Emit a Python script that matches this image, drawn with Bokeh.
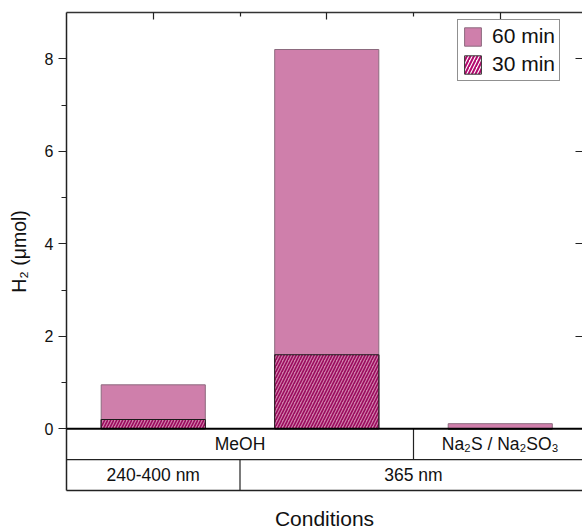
from bokeh.plotting import figure
from bokeh.models import (Range1d, LinearAxis, FixedTicker, Legend, LegendItem, Span,
                          CustomJSTickFormatter)
from bokeh.core.properties import value
from bokeh.embed import file_html
from bokeh.resources import INLINE

# ---- data ----
solvents = ["MeOH", "MeOH", "Na₂S / Na₂SO₃"]
wavelengths = ["240-400 nm", "365 nm", "365 nm"]
h2_60min = [0.95, 8.2, 0.11]
h2_30min = [0.2, 1.6, 0.0]
y_ticks = [0, 2, 4, 6, 8]
y_minor_ticks = [1, 3, 5, 7]

FONT = "Liberation Sans"
PINK = "#CF7FAB"
DARK = "#9A0A5C"

xs = list(range(len(h2_60min)))

# layout constants (pixels)
W, H = 582, 532
border_left, border_top, border_bottom = 66, 12, 40
px_per_cat = 173.5
frame_w = W - border_left
x_start = -0.5
x_end = x_start + frame_w / px_per_cat
y_top = 9.0
px_per_unit = 46.45
row_h = 31 / px_per_unit
y_bottom = -2 * row_h

p = figure(width=W, height=H, x_range=Range1d(x_start, x_end),
           y_range=Range1d(y_bottom, y_top), output_backend="svg",
           toolbar_location=None, x_axis_location=None, y_axis_location=None,
           min_border_left=border_left, min_border_right=0, min_border_top=border_top,
           min_border_bottom=border_bottom)
p.outline_line_color = None
p.xgrid.visible = False
p.ygrid.visible = False
p.background_fill_color = "white"

# ---- bars ----
# legend swatch style for the 30 min series (white ground, magenta stripes); drawn first,
# fully covered by the 60 min bars
r30_key = p.vbar(x=xs, top=h2_30min, width=0.6, fill_color="white",
                 hatch_pattern="/", hatch_color="#B3086E", hatch_scale=7, hatch_weight=2,
                 line_color="#333333", line_width=1)
r60 = p.vbar(x=xs, top=h2_60min, width=0.6, fill_color=PINK,
             line_color="#8C6A7E", line_width=1)
r30 = p.vbar(x=xs, top=h2_30min, width=0.6, fill_color=PINK,
             hatch_pattern="/", hatch_color=DARK, hatch_scale=6, hatch_weight=1.6,
             line_color="#1a1a1a", line_width=1)

# ---- table below the bars ----
def groups(labels):
    out = []
    start = 0
    for i in range(1, len(labels) + 1):
        if i == len(labels) or labels[i] != labels[start]:
            out.append((start, i - 1, labels[start]))
            start = i
    return out

row1 = groups(solvents)
row2 = groups(wavelengths)
row1_y = -row_h / 2
row2_y = -1.5 * row_h

for row, ry in ((row1, row1_y), (row2, row2_y)):
    p.text(x=[(a + b) / 2 for a, b, _ in row], y=[ry] * len(row), text=[t for _, _, t in row],
           text_align="center", text_baseline="middle", text_font=value(FONT),
           text_font_size=value("17.5px"), text_color="#111111")

div1 = [b + 0.5 for a, b, _ in row1[:-1]]
div2 = [b + 0.5 for a, b, _ in row2[:-1]]
p.segment(x0=div1, x1=div1, y0=[0] * len(div1), y1=[-row_h] * len(div1),
          line_color="#222222", line_width=1.2)
p.segment(x0=div2, x1=div2, y0=[-row_h] * len(div2), y1=[-2 * row_h] * len(div2),
          line_color="#222222", line_width=1.2)

p.add_layout(Span(location=0, dimension="width", line_color="black", line_width=2))
p.add_layout(Span(location=-row_h, dimension="width", line_color="#222222", line_width=1.2))

# ---- axes ----
blank = CustomJSTickFormatter(code="return ''")

left = LinearAxis(ticker=FixedTicker(ticks=y_ticks, minor_ticks=y_minor_ticks),
                  axis_label="H₂ (μmol)",
                  major_tick_out=8, major_tick_in=0, minor_tick_out=5, minor_tick_in=0,
                  major_label_standoff=5, axis_label_standoff=12,
                  major_label_text_font=FONT, major_label_text_font_size="16px",
                  major_label_text_color="#111111",
                  axis_label_text_font=FONT, axis_label_text_font_size="19.5px",
                  axis_label_text_font_style="normal", axis_label_text_color="#111111",
                  axis_line_color="#222222", axis_line_width=1.5,
                  major_tick_line_color="#222222", major_tick_line_width=1.2,
                  minor_tick_line_color="#222222", minor_tick_line_width=1.2)
p.add_layout(left, "left")

right = LinearAxis(ticker=FixedTicker(ticks=y_ticks), formatter=blank,
                   major_tick_in=7, major_tick_out=0,
                   minor_tick_in=0, minor_tick_out=0, axis_line_color=None,
                   major_label_text_font_size="1px", major_label_standoff=0,
                   major_tick_line_color="#222222", major_tick_line_width=1.2)
p.add_layout(right, "right")

top = LinearAxis(ticker=FixedTicker(ticks=xs, minor_ticks=[x + 0.5 for x in xs[:-1]]),
                 formatter=blank,
                 major_tick_in=7, major_tick_out=0, minor_tick_in=4, minor_tick_out=0,
                 major_label_text_font_size="1px", major_label_standoff=0,
                 axis_line_color="#333333", axis_line_width=1.5,
                 major_tick_line_color="#222222", major_tick_line_width=1.2,
                 minor_tick_line_color="#222222", minor_tick_line_width=1.2)
p.add_layout(top, "above")

bottom = LinearAxis(ticker=FixedTicker(ticks=[]), axis_label="Conditions",
                    major_tick_in=0, major_tick_out=0, minor_tick_in=0, minor_tick_out=0,
                    major_label_standoff=0, axis_label_standoff=16,
                    axis_label_text_font=FONT, axis_label_text_font_size="21px",
                    axis_label_text_font_style="normal", axis_label_text_color="#111111",
                    axis_line_color="#222222", axis_line_width=1.5)
p.add_layout(bottom, "below")

# ---- legend ----
legend = Legend(items=[LegendItem(label="60 min", renderers=[r60]),
                       LegendItem(label="30 min", renderers=[r30_key])],
                location=(391, 409), margin=0, padding=4, spacing=4,
                glyph_width=21, glyph_height=23, label_height=23, label_standoff=9,
                label_text_font=FONT, label_text_font_size="21px", label_text_color="#111111",
                border_line_color="#222222", border_line_width=1,
                background_fill_color="white", background_fill_alpha=1)
p.add_layout(legend)

open("out.html", "w").write(file_html(p, INLINE))
